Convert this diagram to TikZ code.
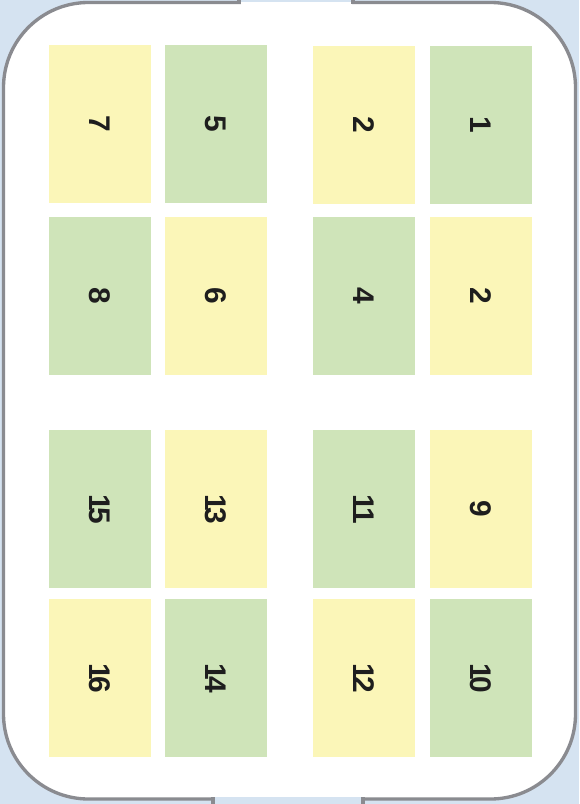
\documentclass[tikz,border=0pt]{standalone}
\usepackage{fontspec}
\setmainfont{Liberation Sans}
\usepackage{graphicx}
\usepackage{xcolor}

\definecolor{bgblue}{HTML}{D5E3F1}
\definecolor{rimgray}{HTML}{8A8B90}
\definecolor{yelcell}{HTML}{FBF6B8}
\definecolor{grncell}{HTML}{CFE4B9}
\definecolor{numink}{HTML}{1E1E1E}

% single digit and two digit labels (two digits sit close together)
\newcommand{\onedig}[1]{\rotatebox{-90}{#1}}
\newcommand{\twodig}[2]{\rotatebox{-90}{#1\kern-0.13em#2}}

\tikzset{
    cell/.style={minimum width=2.04cm, minimum height=3.16cm, inner sep=0pt,
                 text=numink, font=\fontsize{17}{17}\selectfont\bfseries},
    ycell/.style={cell, fill=yelcell},
    gcell/.style={cell, fill=grncell},
    rim/.style={draw=rimgray, line width=1.9pt}
}

\begin{document}
\begin{tikzpicture}[x=0.02cm, y=-0.02cm]

    % ==========================================
    % BACKGROUND AND TRAY
    % ==========================================

    \fill[bgblue] (0,0) rectangle (579,804);
    \useasboundingbox (0,0) rectangle (579,804);

    % Tray outline
    \draw[rim, fill=white, rounded corners=1.7cm] (3.5,2.5) rectangle (575.5,799);

    % Gap at the top
    \fill[bgblue] (240.5,0) rectangle (351.5,1.8);
    \fill[white] (240.5,1.8) rectangle (351.5,5);
    \draw[rim] (239,0) -- (239,4);
    \draw[rim] (353,0) -- (353,4);

    % Gap at the bottom
    \fill[bgblue] (214.5,797.4) rectangle (361.5,804);
    \draw[rim] (213,797.4) -- (213,804);
    \draw[rim] (363,797.4) -- (363,804);

    % ==========================================
    % UPPER BLOCK
    % ==========================================

    % Left pair
    \node[ycell] (r1c1) at (100,124) {\onedig{7}};
    \node[gcell] (r1c2) at (216,124) {\onedig{5}};
    \node[gcell] (r2c1) at (100,296) {\onedig{8}};
    \node[ycell] (r2c2) at (216,296) {\onedig{6}};

    % Right pair
    \node[ycell] (r1c3) at (364,125) {\onedig{2}};
    \node[gcell] (r1c4) at (481,125) {\onedig{1}};
    \node[gcell] (r2c3) at (364,296) {\onedig{4}};
    \node[ycell] (r2c4) at (481,296) {\onedig{2}};

    % ==========================================
    % LOWER BLOCK
    % ==========================================

    % Left pair
    \node[gcell] (r3c1) at (100,509) {\twodig{1}{5}};
    \node[ycell] (r3c2) at (216,509) {\twodig{1}{3}};
    \node[ycell] (r4c1) at (100,678) {\twodig{1}{6}};
    \node[gcell] (r4c2) at (216,678) {\twodig{1}{4}};

    % Right pair
    \node[gcell] (r3c3) at (364,509) {\twodig{1}{1}};
    \node[ycell] (r3c4) at (481,509) {\onedig{9}};
    \node[ycell] (r4c3) at (364,678) {\twodig{1}{2}};
    \node[gcell] (r4c4) at (481,678) {\twodig{1}{0}};

\end{tikzpicture}
\end{document}
